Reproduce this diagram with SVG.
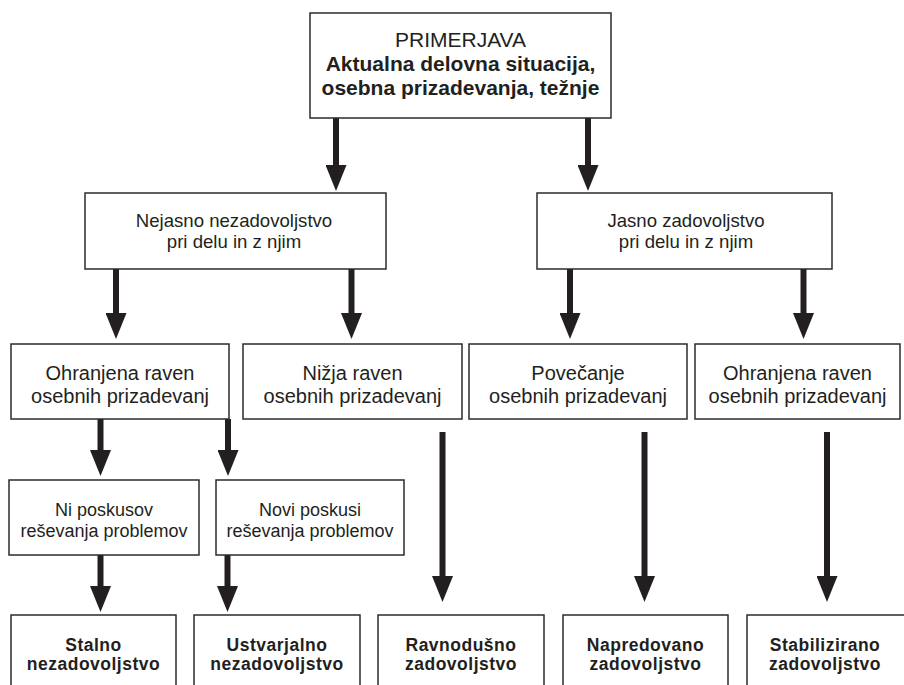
<svg xmlns="http://www.w3.org/2000/svg" width="904" height="685" viewBox="0 0 904 685">
<style>
.box{fill:#fff;stroke:#2b2b2b;stroke-width:1.5}
.t{font-family:"Liberation Sans",Arial,sans-serif;font-size:18px;fill:#231f20;text-anchor:middle}
.t2{font-size:18.6px}
.t3{font-size:20px}
.tt{font-family:"Liberation Sans",Arial,sans-serif;font-size:21px;fill:#231f20;text-anchor:middle}
.b{font-weight:bold}
.bt{font-family:"Liberation Sans",Arial,sans-serif;font-size:17.5px;font-weight:bold;fill:#231f20;text-anchor:middle;letter-spacing:0.5px}
.arr{stroke:#231f20;stroke-width:6;fill:none;marker-end:url(#ah)}
</style>
<defs>
<marker id="ah" markerUnits="userSpaceOnUse" viewBox="0 0 26 21" markerWidth="26" markerHeight="21" refX="1" refY="10.5" orient="auto">
<path d="M0,0 L26,10.5 L0,21 Z" fill="#231f20"/>
</marker>
</defs>
<g id="connectors">
<path class="arr" d="M336,118 V166"/>
<path class="arr" d="M588,118 V166"/>
<path class="arr" d="M116,269 V314"/>
<path class="arr" d="M351.5,269 V314"/>
<path class="arr" d="M570,269 V314"/>
<path class="arr" d="M803.5,269 V314"/>
<path class="arr" d="M100.5,419 V451"/>
<path class="arr" d="M228,419 V451"/>
<path class="arr" d="M100.5,555 V587"/>
<path class="arr" d="M227.5,555 V587"/>
<path class="arr" d="M442.5,432 V577"/>
<path class="arr" d="M644.5,432 V577"/>
<path class="arr" d="M827,432 V577"/>
</g>
<g id="n_primerjava">
<rect class="box" x="310" y="13" width="301" height="105"/>
<text class="tt" x="460.5" y="47">PRIMERJAVA</text>
<text class="tt b" x="460.5" y="71">Aktualna delovna situacija,</text>
<text class="tt b" x="460.5" y="94.5">osebna prizadevanja, težnje</text>
</g>
<g id="n_nejasno">
<rect class="box" x="85" y="193" width="301" height="76"/>
<text class="t t2" x="234" y="227">Nejasno nezadovoljstvo</text>
<text class="t t2" x="234" y="248">pri delu in z njim</text>
</g>
<g id="n_jasno">
<rect class="box" x="537" y="193" width="295" height="76"/>
<text class="t t2" x="686" y="227">Jasno zadovoljstvo</text>
<text class="t t2" x="686" y="248">pri delu in z njim</text>
</g>
<g id="n_ohranjena1">
<rect class="box" x="11" y="344" width="218" height="75"/>
<text class="t t3" x="120" y="380">Ohranjena raven</text>
<text class="t t3" x="120" y="402.5">osebnih prizadevanj</text>
</g>
<g id="n_nizja">
<rect class="box" x="243" y="344" width="219" height="75"/>
<text class="t t3" x="352.5" y="380">Nižja raven</text>
<text class="t t3" x="352.5" y="402.5">osebnih prizadevanj</text>
</g>
<g id="n_povecanje">
<rect class="box" x="469" y="344" width="218" height="75"/>
<text class="t t3" x="578" y="380">Povečanje</text>
<text class="t t3" x="578" y="402.5">osebnih prizadevanj</text>
</g>
<g id="n_ohranjena2">
<rect class="box" x="695" y="344" width="205" height="75"/>
<text class="t t3" x="797.5" y="380">Ohranjena raven</text>
<text class="t t3" x="797.5" y="402.5">osebnih prizadevanj</text>
</g>
<g id="n_ni_poskusov">
<rect class="box" x="9" y="480" width="190" height="75"/>
<text class="t" x="104" y="516">Ni poskusov</text>
<text class="t" x="104" y="537">reševanja problemov</text>
</g>
<g id="n_novi_poskusi">
<rect class="box" x="216" y="480" width="188" height="75"/>
<text class="t" x="310" y="516">Novi poskusi</text>
<text class="t" x="310" y="537">reševanja problemov</text>
</g>
<g id="n_stalno">
<rect class="box" x="11" y="615" width="165" height="80"/>
<text class="bt" x="93.5" y="650.5">Stalno</text>
<text class="bt" x="93.5" y="670">nezadovoljstvo</text>
</g>
<g id="n_ustvarjalno">
<rect class="box" x="194" y="615" width="166" height="80"/>
<text class="bt" x="277" y="650.5">Ustvarjalno</text>
<text class="bt" x="277" y="670">nezadovoljstvo</text>
</g>
<g id="n_ravnodusno">
<rect class="box" x="378" y="615" width="166" height="80"/>
<text class="bt" x="461" y="650.5">Ravnodušno</text>
<text class="bt" x="461" y="670">zadovoljstvo</text>
</g>
<g id="n_napredovano">
<rect class="box" x="563" y="615" width="165" height="80"/>
<text class="bt" x="645.5" y="650.5">Napredovano</text>
<text class="bt" x="645.5" y="670">zadovoljstvo</text>
</g>
<g id="n_stabilizirano">
<rect class="box" x="747" y="615" width="158" height="80"/>
<text class="bt" x="825" y="650.5">Stabilizirano</text>
<text class="bt" x="825" y="670">zadovoljstvo</text>
</g>
</svg>
